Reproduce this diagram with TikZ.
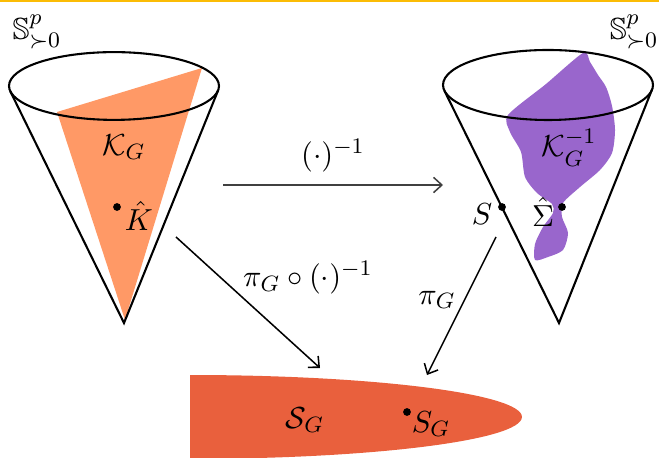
\documentclass[tikz,border=0pt]{standalone}
\usepackage{amsmath,amssymb}
\usetikzlibrary{arrows.meta, positioning}
\definecolor{setOrange}{HTML}{FF9966}
\definecolor{setPurple}{HTML}{9966CC}
\definecolor{setRed}{HTML}{E9603D}
\definecolor{ruleGold}{HTML}{FBBC05}
\definecolor{mapGray}{HTML}{404040}

\begin{document}
\begin{tikzpicture}[x=0.36pt, y=-0.36pt,
  cone/.style={line width=0.75pt, black},
  dot/.style={circle, fill=black, inner sep=0pt, minimum size=2.8pt},
  lbl/.style={inner sep=0pt, font=\fontsize{11}{13}\selectfont},
  arr/.style={-{Straight Barb[length=3pt, width=5.5pt]}, line width=0.55pt}
]
\useasboundingbox (0,0) rectangle (659,458);
\fill[ruleGold] (0,0) rectangle (659,2);

% bottom set
\fill[setRed] (190,375) arc[start angle=90, end angle=-90, x radius=119.5pt, y radius=15.1pt] -- cycle;
\node[lbl] (SGset) at (305,420) {$\mathcal{S}_G$};
\node[dot] (SGdot) at (407,412) {};
\node[lbl] (SG) at (431,424) {$S_G$};

% left cone
\fill[setOrange] (57,112) -- (202,68) -- (125,320) -- cycle;
\draw[cone] (114,86) ellipse [x radius=37.8pt, y radius=12.2pt];
\draw[cone] (10.3,91.3) -- (124,323) -- (218.1,90.4);
\node[lbl] (KG) at (124,147) {$\mathcal{K}_G$};
\node[dot] (Khat) at (117,207) {};
\node[lbl] (Khatlbl) at (139,216) {$\hat{K}$};
\node[lbl] (Sleft) at (37,32) {$\mathbb{S}^p_{\succ 0}$};

% right cone
\fill[setPurple] plot[smooth cycle, tension=0.45] coordinates {
  (583,53) (546,84) (508,115) (510,132) (521,152) (525,177) (537,193) (552,204)
  (553,213) (543,227) (535,244) (535,260) (548,257) (563,250) (568,233)
  (562,217) (563,203) (580,187) (600,170) (612,153) (615,130) (612,106)
  (606,87) (598,75) (590,62)};
\draw[cone] (548,85) ellipse [x radius=37.8pt, y radius=12.6pt];
\draw[cone] (444.4,90.7) -- (559,323) -- (652,89.6);
\node[lbl] (KGinv) at (569,148) {$\mathcal{K}_G^{-1}$};
\node[dot] (S) at (502,207) {};
\node[lbl] (Slbl) at (482,214) {$S$};
\node[dot] (Sigma) at (562,207) {};
\node[lbl] (Sigmalbl) at (543,212) {$\hat{\Sigma}$};
\node[lbl] (Sright) at (634,32) {$\mathbb{S}^p_{\succ 0}$};

% maps
\coordinate (invA) at (223,185);
\coordinate (invB) at (443,185);
\coordinate (projA) at (176,237);
\coordinate (projB) at (320,368);
\coordinate (piA) at (496,237);
\coordinate (piB) at (427,375);
\draw[arr, mapGray] (invA) -- (invB);
\node[lbl] (invlbl) at (333,156) {$(\cdot)^{-1}$};
\draw[arr] (projA) -- (projB);
\node[lbl] (projlbl) at (308,278) {$\pi_G \circ (\cdot)^{-1}$};
\draw[arr] (piA) -- (piB);
\node[lbl] (pilbl) at (437,300) {$\pi_G$};
\end{tikzpicture}
\end{document}
